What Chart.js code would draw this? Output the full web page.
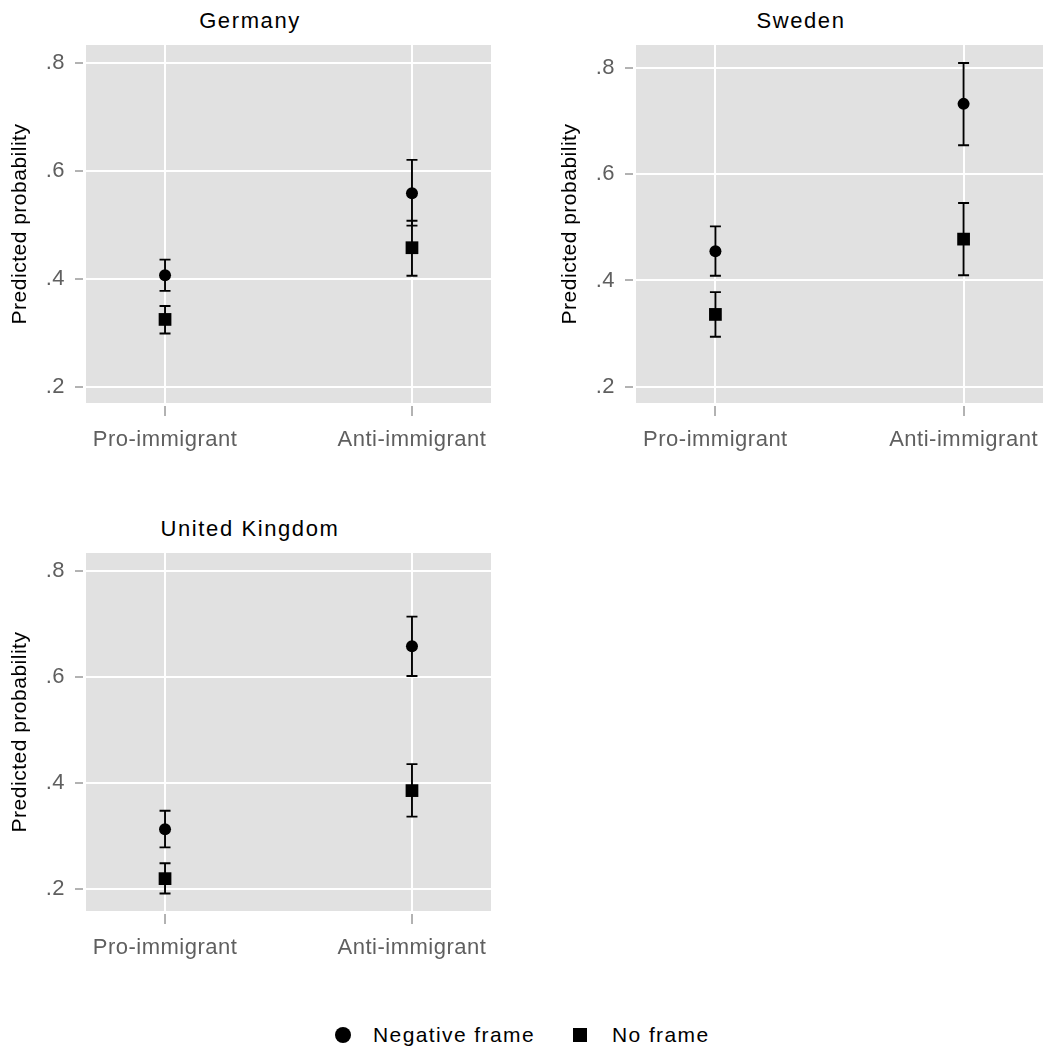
<!DOCTYPE html>
<html>
<head>
<meta charset="utf-8">
<script src="https://cdn.jsdelivr.net/npm/chart.js@4.4.1/dist/chart.umd.min.js"></script>
<style>
  body { margin: 0; background: #fff; font-family: "Liberation Sans", Arial, sans-serif; }
  #page { position: relative; width: 1052px; height: 1053px; overflow: hidden; }
  canvas { position: absolute; }
  .title { position: absolute; width: 500px; text-align: center; font-size: 22px; line-height: 24px; letter-spacing: 1.6px; color: #000; }
  .key { position: absolute; top: 1023px; font-size: 21px; line-height: 24px; letter-spacing: 1.4px; color: #000; white-space: nowrap; }
  .dot { position: absolute; top: 1027px; width: 16px; height: 16px; background: #000; }
</style>
</head>
<body>
<div id="page">
  <div class="title" style="left:0; top:9px">Germany</div>
  <div class="title" style="left:551px; top:9px">Sweden</div>
  <div class="title" style="left:0; top:517px">United Kingdom</div>

  <canvas id="germany" width="500" height="465" style="left:0; top:0"></canvas>
  <canvas id="sweden" width="502" height="465" style="left:550px; top:0"></canvas>
  <canvas id="uk" width="500" height="465" style="left:0; top:508px"></canvas>

  <div class="dot" style="left:335px; border-radius:50%"></div>
  <div class="key" style="left:373px">Negative frame</div>
  <div class="dot" style="left:573px; width:14px; height:14px; top:1028px"></div>
  <div class="key" style="left:612px">No frame</div>
</div>

<script>
// categories and tick labels
const groups = ['Pro-immigrant', 'Anti-immigrant'];
const groupPos = [1, 2];
const yTicks = [0.2, 0.4, 0.6, 0.8];
const yTickLabels = ['.2', '.4', '.6', '.8'];

// Germany: estimate and 95% interval
const deNeg = [0.407, 0.559];
const deNegLo = [0.378, 0.499];
const deNegHi = [0.436, 0.621];
const deNone = [0.325, 0.458];
const deNoneLo = [0.299, 0.406];
const deNoneHi = [0.350, 0.508];

// Sweden
const seNeg = [0.455, 0.733];
const seNegLo = [0.409, 0.655];
const seNegHi = [0.502, 0.810];
const seNone = [0.336, 0.478];
const seNoneLo = [0.294, 0.410];
const seNoneHi = [0.378, 0.546];

// United Kingdom
const ukNeg = [0.312, 0.657];
const ukNegLo = [0.278, 0.601];
const ukNegHi = [0.347, 0.713];
const ukNone = [0.219, 0.385];
const ukNoneLo = [0.191, 0.336];
const ukNoneHi = [0.248, 0.435];

Chart.defaults.font.family = '"Liberation Sans", Arial, sans-serif';

// grey panel + slightly wide lettering like the original
const panelBg = {
    id: 'panelBg',
    beforeUpdate(chart) {
        chart.ctx.letterSpacing = '0.5px';
    },
    beforeDraw(chart) {
        const { ctx, chartArea: a } = chart;
        ctx.letterSpacing = '0.5px';
        ctx.save();
        ctx.fillStyle = '#e1e1e1';
        ctx.fillRect(a.left, a.top, a.right - a.left, a.bottom - a.top);
        ctx.restore();
    }
};

// vertical error bars with caps, read from dataset.lo / dataset.hi
const errorBars = {
    id: 'errorBars',
    beforeDatasetsDraw(chart) {
        const { ctx, scales: { x, y } } = chart;
        ctx.save();
        ctx.strokeStyle = '#000';
        ctx.lineWidth = 1.9;
        chart.data.datasets.forEach(ds => {
            ds.data.forEach((p, i) => {
                const px = x.getPixelForValue(p.x);
                const top = y.getPixelForValue(ds.hi[i]);
                const bot = y.getPixelForValue(ds.lo[i]);
                ctx.beginPath();
                ctx.moveTo(px, top); ctx.lineTo(px, bot);
                ctx.moveTo(px - 5.5, top); ctx.lineTo(px + 5.5, top);
                ctx.moveTo(px - 5.5, bot); ctx.lineTo(px + 5.5, bot);
                ctx.stroke();
            });
        });
        ctx.restore();
    }
};

function points(vals) {
    return vals.map((v, i) => ({ x: groupPos[i], y: v }));
}

function makePanel(id, neg, negLo, negHi, none, noneLo, noneHi, yMin, yMax, rightPad) {
    new Chart(document.getElementById(id), {
        type: 'scatter',
        data: {
            datasets: [{
                label: 'Negative frame',
                data: points(neg),
                lo: negLo,
                hi: negHi,
                pointStyle: 'circle',
                pointRadius: 6,
                backgroundColor: '#000',
                borderWidth: 0
            }, {
                label: 'No frame',
                data: points(none),
                lo: noneLo,
                hi: noneHi,
                pointStyle: 'rect',
                pointRadius: 9,
                backgroundColor: '#000',
                borderWidth: 0
            }]
        },
        options: {
            responsive: false,
            animation: false,
            events: [],
            layout: {
                padding: { top: 45, right: rightPad, bottom: 0, left: 0 }
            },
            plugins: {
                legend: { display: false },
                tooltip: { enabled: false }
            },
            scales: {
                x: {
                    type: 'linear',
                    min: 0.68,
                    max: 2.32,
                    afterFit: scale => { scale.height = 62; },
                    afterBuildTicks: scale => {
                        scale.ticks = groupPos.map(v => ({ value: v }));
                    },
                    ticks: {
                        autoSkip: false,
                        maxRotation: 0,
                        padding: 11,
                        color: '#5f5f5f',
                        font: { size: 22 },
                        callback: (v, i) => groups[i]
                    },
                    grid: {
                        color: '#ffffff',
                        lineWidth: 2,
                        tickLength: 13,
                        tickColor: '#666',
                        tickWidth: 1,
                        tickBorderDash: [0, 3, 10, 100]
                    },
                    border: { display: false }
                },
                y: {
                    min: yMin,
                    max: yMax,
                    afterFit: scale => { scale.width = 86; },
                    afterBuildTicks: scale => {
                        scale.ticks = yTicks.map(v => ({ value: v }));
                    },
                    ticks: {
                        padding: 10,
                        color: '#5f5f5f',
                        font: { size: 22 },
                        callback: (v, i) => yTickLabels[i]
                    },
                    grid: {
                        color: '#ffffff',
                        lineWidth: 2,
                        tickLength: 11,
                        tickColor: '#666',
                        tickWidth: 1,
                        tickBorderDash: [8, 100]
                    },
                    border: { display: false },
                    title: {
                        display: true,
                        text: 'Predicted probability',
                        color: '#000',
                        font: { size: 21 },
                        padding: { top: 8, bottom: 0 }
                    }
                }
            }
        },
        plugins: [panelBg, errorBars]
    });
}

makePanel('germany', deNeg, deNegLo, deNegHi, deNone, deNoneLo, deNoneHi, 0.170, 0.834, 6);
makePanel('sweden', seNeg, seNegLo, seNegHi, seNone, seNoneLo, seNoneHi, 0.169, 0.844, 9);
makePanel('uk', ukNeg, ukNegLo, ukNegHi, ukNone, ukNoneLo, ukNoneHi, 0.158, 0.833, 7);
</script>
</body>
</html>
